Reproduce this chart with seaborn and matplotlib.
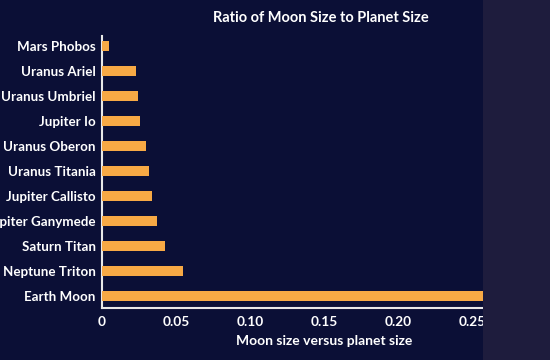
import matplotlib
matplotlib.use("Agg")
import matplotlib.pyplot as plt
import seaborn as sns
import pandas as pd
from matplotlib.patches import Rectangle

moons = ["Mars Phobos", "Uranus Ariel", "Uranus Umbriel", "Jupiter Io", "Uranus Oberon",
         "Uranus Titania", "Jupiter Callisto", "Jupiter Ganymede", "Saturn Titan",
         "Neptune Triton", "Earth Moon"]
ratios = [0.005, 0.023, 0.0243, 0.0257, 0.030, 0.032, 0.034, 0.037, 0.0426, 0.055, 0.273]
xticks = [0, 0.05, 0.10, 0.15, 0.20, 0.25]
xtick_labels = ["0", "0.05", "0.10", "0.15", "0.20", "0.25"]

df = pd.DataFrame({"moon": moons, "ratio": ratios})

sns.set_theme(style="dark")
plt.rcParams["font.family"] = ["Lato", "DejaVu Sans"]

bg = "#0b0f36"
fig = plt.figure(figsize=(5.5, 3.6), dpi=100, facecolor=bg)
fig.patches.append(Rectangle((0.878, 0), 0.122, 1, transform=fig.transFigure,
                             facecolor="#1e1c3d", edgecolor="none", zorder=0))
ax = fig.add_axes([0.1855, 0.1444, 0.6945, 0.7556])
ax.set_facecolor("none")

sns.barplot(data=df, x="ratio", y="moon", orient="h", color="#f7a945",
            saturation=1, width=0.4, linewidth=0, edgecolor="none", ax=ax, zorder=3)

ax.set_xlim(0, 0.258)
ax.set_ylim(10.48, -0.4)
ax.set_xticks(xticks)
ax.set_xticklabels(xtick_labels)
ax.set_xlabel("")
ax.set_ylabel("")
ax.grid(False)
for s in ["top", "right"]:
    ax.spines[s].set_visible(False)
for s in ["left", "bottom"]:
    ax.spines[s].set_visible(True)
    ax.spines[s].set_color("#e8e8e8")
    ax.spines[s].set_linewidth(1.5)
ax.tick_params(axis="x", direction="in", length=5, width=1.2, color="#e8e8e8",
               labelcolor="white", labelsize=9.8, pad=6)
ax.tick_params(axis="y", length=0, labelcolor="white", labelsize=9.6, pad=4.5)
for lab in ax.get_yticklabels() + ax.get_xticklabels():
    lab.set_fontweight("bold")

fig.text(0.584, 0.95, "Ratio of Moon Size to Planet Size", color="white",
         ha="center", va="center", fontsize=10.5, fontweight="bold")
fig.text(0.589, 0.053, "Moon size versus planet size", color="white",
         ha="center", va="center", fontsize=10, fontweight="bold")

fig.savefig("out.png", dpi=100, facecolor=bg)
